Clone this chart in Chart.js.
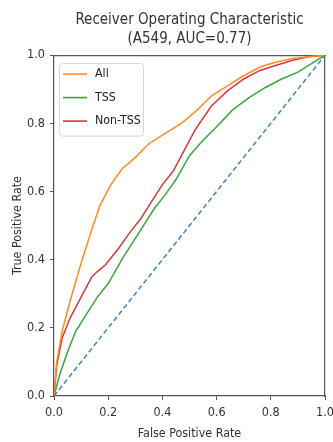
<!DOCTYPE html>
<html>
<head>
<meta charset="utf-8">
<script src="https://cdn.jsdelivr.net/npm/chart.js@4.4.0/dist/chart.umd.min.js"></script>
<style>
  html, body { margin: 0; padding: 0; background: #fff; }
  #wrap { width: 333px; height: 442px; }
</style>
</head>
<body>
<div id="wrap"><canvas id="rocChart" width="333" height="442"></canvas></div>
<script>
// ROC curves
const fprAll = [0, 0.01, 0.03, 0.06, 0.10, 0.14, 0.17, 0.21, 0.25, 0.30, 0.35, 0.40, 0.47, 0.53, 0.58, 0.64, 0.69, 0.76, 0.82, 0.88, 0.94, 1.0];
const tprAll = [0, 0.10, 0.19, 0.28, 0.39, 0.49, 0.56, 0.62, 0.665, 0.70, 0.74, 0.765, 0.80, 0.84, 0.88, 0.91, 0.935, 0.965, 0.98, 0.99, 0.995, 1.0];

const fprTss = [0, 0.02, 0.05, 0.08, 0.12, 0.16, 0.20, 0.25, 0.29, 0.33, 0.37, 0.41, 0.45, 0.50, 0.55, 0.60, 0.66, 0.72, 0.78, 0.84, 0.90, 0.95, 1.0];
const tprTss = [0, 0.06, 0.13, 0.19, 0.24, 0.29, 0.33, 0.40, 0.45, 0.50, 0.55, 0.59, 0.635, 0.705, 0.75, 0.79, 0.84, 0.875, 0.905, 0.93, 0.95, 0.975, 1.0];

const fprNonTss = [0, 0.01, 0.03, 0.06, 0.10, 0.14, 0.16, 0.19, 0.24, 0.28, 0.32, 0.36, 0.40, 0.44, 0.48, 0.52, 0.58, 0.64, 0.70, 0.76, 0.82, 0.88, 0.94, 1.0];
const tprNonTss = [0, 0.09, 0.17, 0.23, 0.29, 0.35, 0.365, 0.385, 0.435, 0.48, 0.52, 0.57, 0.62, 0.66, 0.72, 0.78, 0.85, 0.895, 0.93, 0.955, 0.97, 0.985, 0.995, 1.0];

const fprChance = [0, 1];
const tprChance = [0, 1];

const seriesLabels = ["All", "TSS", "Non-TSS"];
const tickValues = [0, 0.2, 0.4, 0.6, 0.8, 1.0];

const FONT = "'DejaVu Sans Condensed', 'DejaVu Sans', sans-serif";

const toPoints = (xs, ys) => xs.map((x, i) => ({ x: x, y: ys[i] }));

// legend box drawn inside the plot, upper left
const innerLegend = {
    id: "innerLegend",
    afterDatasetsDraw(chart) {
        const ctx = chart.ctx;
        const area = chart.chartArea;
        const items = chart.data.datasets.filter((d) => seriesLabels.includes(d.label));
        const x0 = area.left + 5, y0 = area.top + 8;
        const w = 84, rowH = 23.5, h = items.length * rowH + 2;
        ctx.save();
        ctx.fillStyle = "rgba(255,255,255,0.85)";
        ctx.strokeStyle = "#d6d6d6";
        ctx.lineWidth = 1;
        ctx.beginPath();
        ctx.roundRect(x0 + 0.5, y0 + 0.5, w, h, 3);
        ctx.fill();
        ctx.stroke();
        ctx.font = "12.3px " + FONT;
        ctx.textBaseline = "middle";
        items.forEach((d, i) => {
            const cy = y0 + 11 + i * rowH;
            ctx.strokeStyle = d.borderColor;
            ctx.lineWidth = 1.6;
            ctx.beginPath();
            ctx.moveTo(x0 + 4, cy);
            ctx.lineTo(x0 + 28, cy);
            ctx.stroke();
            ctx.fillStyle = "#222";
            ctx.fillText(d.label, x0 + 36, cy);
        });
        ctx.restore();
    },
};

const ctx = document.getElementById("rocChart").getContext("2d");

new Chart(ctx, {
    type: "line",
    data: {
        datasets: [
            {
                label: "All",
                data: toPoints(fprAll, tprAll),
                borderColor: "#ff8c26",
                borderWidth: 1.5,
            },
            {
                label: "TSS",
                data: toPoints(fprTss, tprTss),
                borderColor: "#3aa63a",
                borderWidth: 1.5,
            },
            {
                label: "Non-TSS",
                data: toPoints(fprNonTss, tprNonTss),
                borderColor: "#d43a3a",
                borderWidth: 1.5,
            },
            {
                label: "chance",
                data: toPoints(fprChance, tprChance),
                borderColor: "#3c84c0",
                borderWidth: 1.5,
                borderDash: [5, 3],
            },
        ],
    },
    options: {
        responsive: false,
        animation: false,
        events: [],
        elements: {
            point: { radius: 0 },
            line: { tension: 0, fill: false },
        },
        layout: { padding: { left: 0, right: 8, top: 0, bottom: 0 } },
        plugins: {
            legend: { display: false },
            tooltip: { enabled: false },
            title: {
                display: true,
                fullSize: false,
                text: ["Receiver Operating Characteristic", "(A549, AUC=0.77)"],
                color: "#333",
                font: { family: FONT, size: 15, weight: "normal", lineHeight: 1.27 },
                padding: { top: 10.5, bottom: 6.5 },
            },
        },
        scales: {
            x: {
                type: "linear",
                min: 0,
                max: 1,
                afterBuildTicks: (scale) => { scale.ticks = tickValues.map((v) => ({ value: v })); },
                afterFit: (scale) => {
                    scale.height = 46;
                    // let the "1.0" label hang past the edge, as in the original
                    scale.paddingLeft = 0;
                    scale.paddingRight = 0;
                },
                ticks: {
                    color: "#333",
                    padding: 5.5,
                    maxRotation: 0,
                    font: { family: FONT, size: 12.5, lineHeight: 1.2 },
                    callback: (v) => v.toFixed(1),
                },
                grid: { display: true, drawOnChartArea: false, drawTicks: true, tickLength: 4, color: "#555" },
                border: { display: true, color: "#555", width: 1.2 },
                title: {
                    display: true,
                    text: "False Positive Rate",
                    color: "#333",
                    font: { family: FONT, size: 12.4, lineHeight: 1.2 },
                    padding: { top: 0, bottom: 0.5 },
                },
            },
            y: {
                type: "linear",
                min: 0,
                max: 1,
                afterBuildTicks: (scale) => { scale.ticks = tickValues.map((v) => ({ value: v })); },
                afterFit: (scale) => { scale.width = 54; },
                ticks: {
                    color: "#333",
                    padding: 5,
                    font: { family: FONT, size: 12.5 },
                    callback: (v) => v.toFixed(1),
                },
                grid: { display: true, drawOnChartArea: false, drawTicks: true, tickLength: 4, color: "#555" },
                border: { display: true, color: "#555", width: 1.2 },
                title: {
                    display: true,
                    text: "True Positive Rate",
                    color: "#333",
                    font: { family: FONT, size: 12.4, lineHeight: 1.2 },
                    padding: { top: 10.5, bottom: 0 },
                },
            },
            xTop: {
                type: "linear",
                position: "top",
                min: 0,
                max: 1,
                ticks: { display: false },
                grid: { display: false },
                border: { display: true, color: "#555", width: 1.2 },
                afterFit: (scale) => { scale.height = 0; scale.paddingLeft = 0; scale.paddingRight = 0; },
            },
            yRight: {
                type: "linear",
                position: "right",
                min: 0,
                max: 1,
                ticks: { display: false },
                grid: { display: false },
                border: { display: true, color: "#555", width: 1.2 },
                afterFit: (scale) => { scale.width = 0; },
            },
        },
    },
    plugins: [innerLegend],
});
</script>
</body>
</html>
